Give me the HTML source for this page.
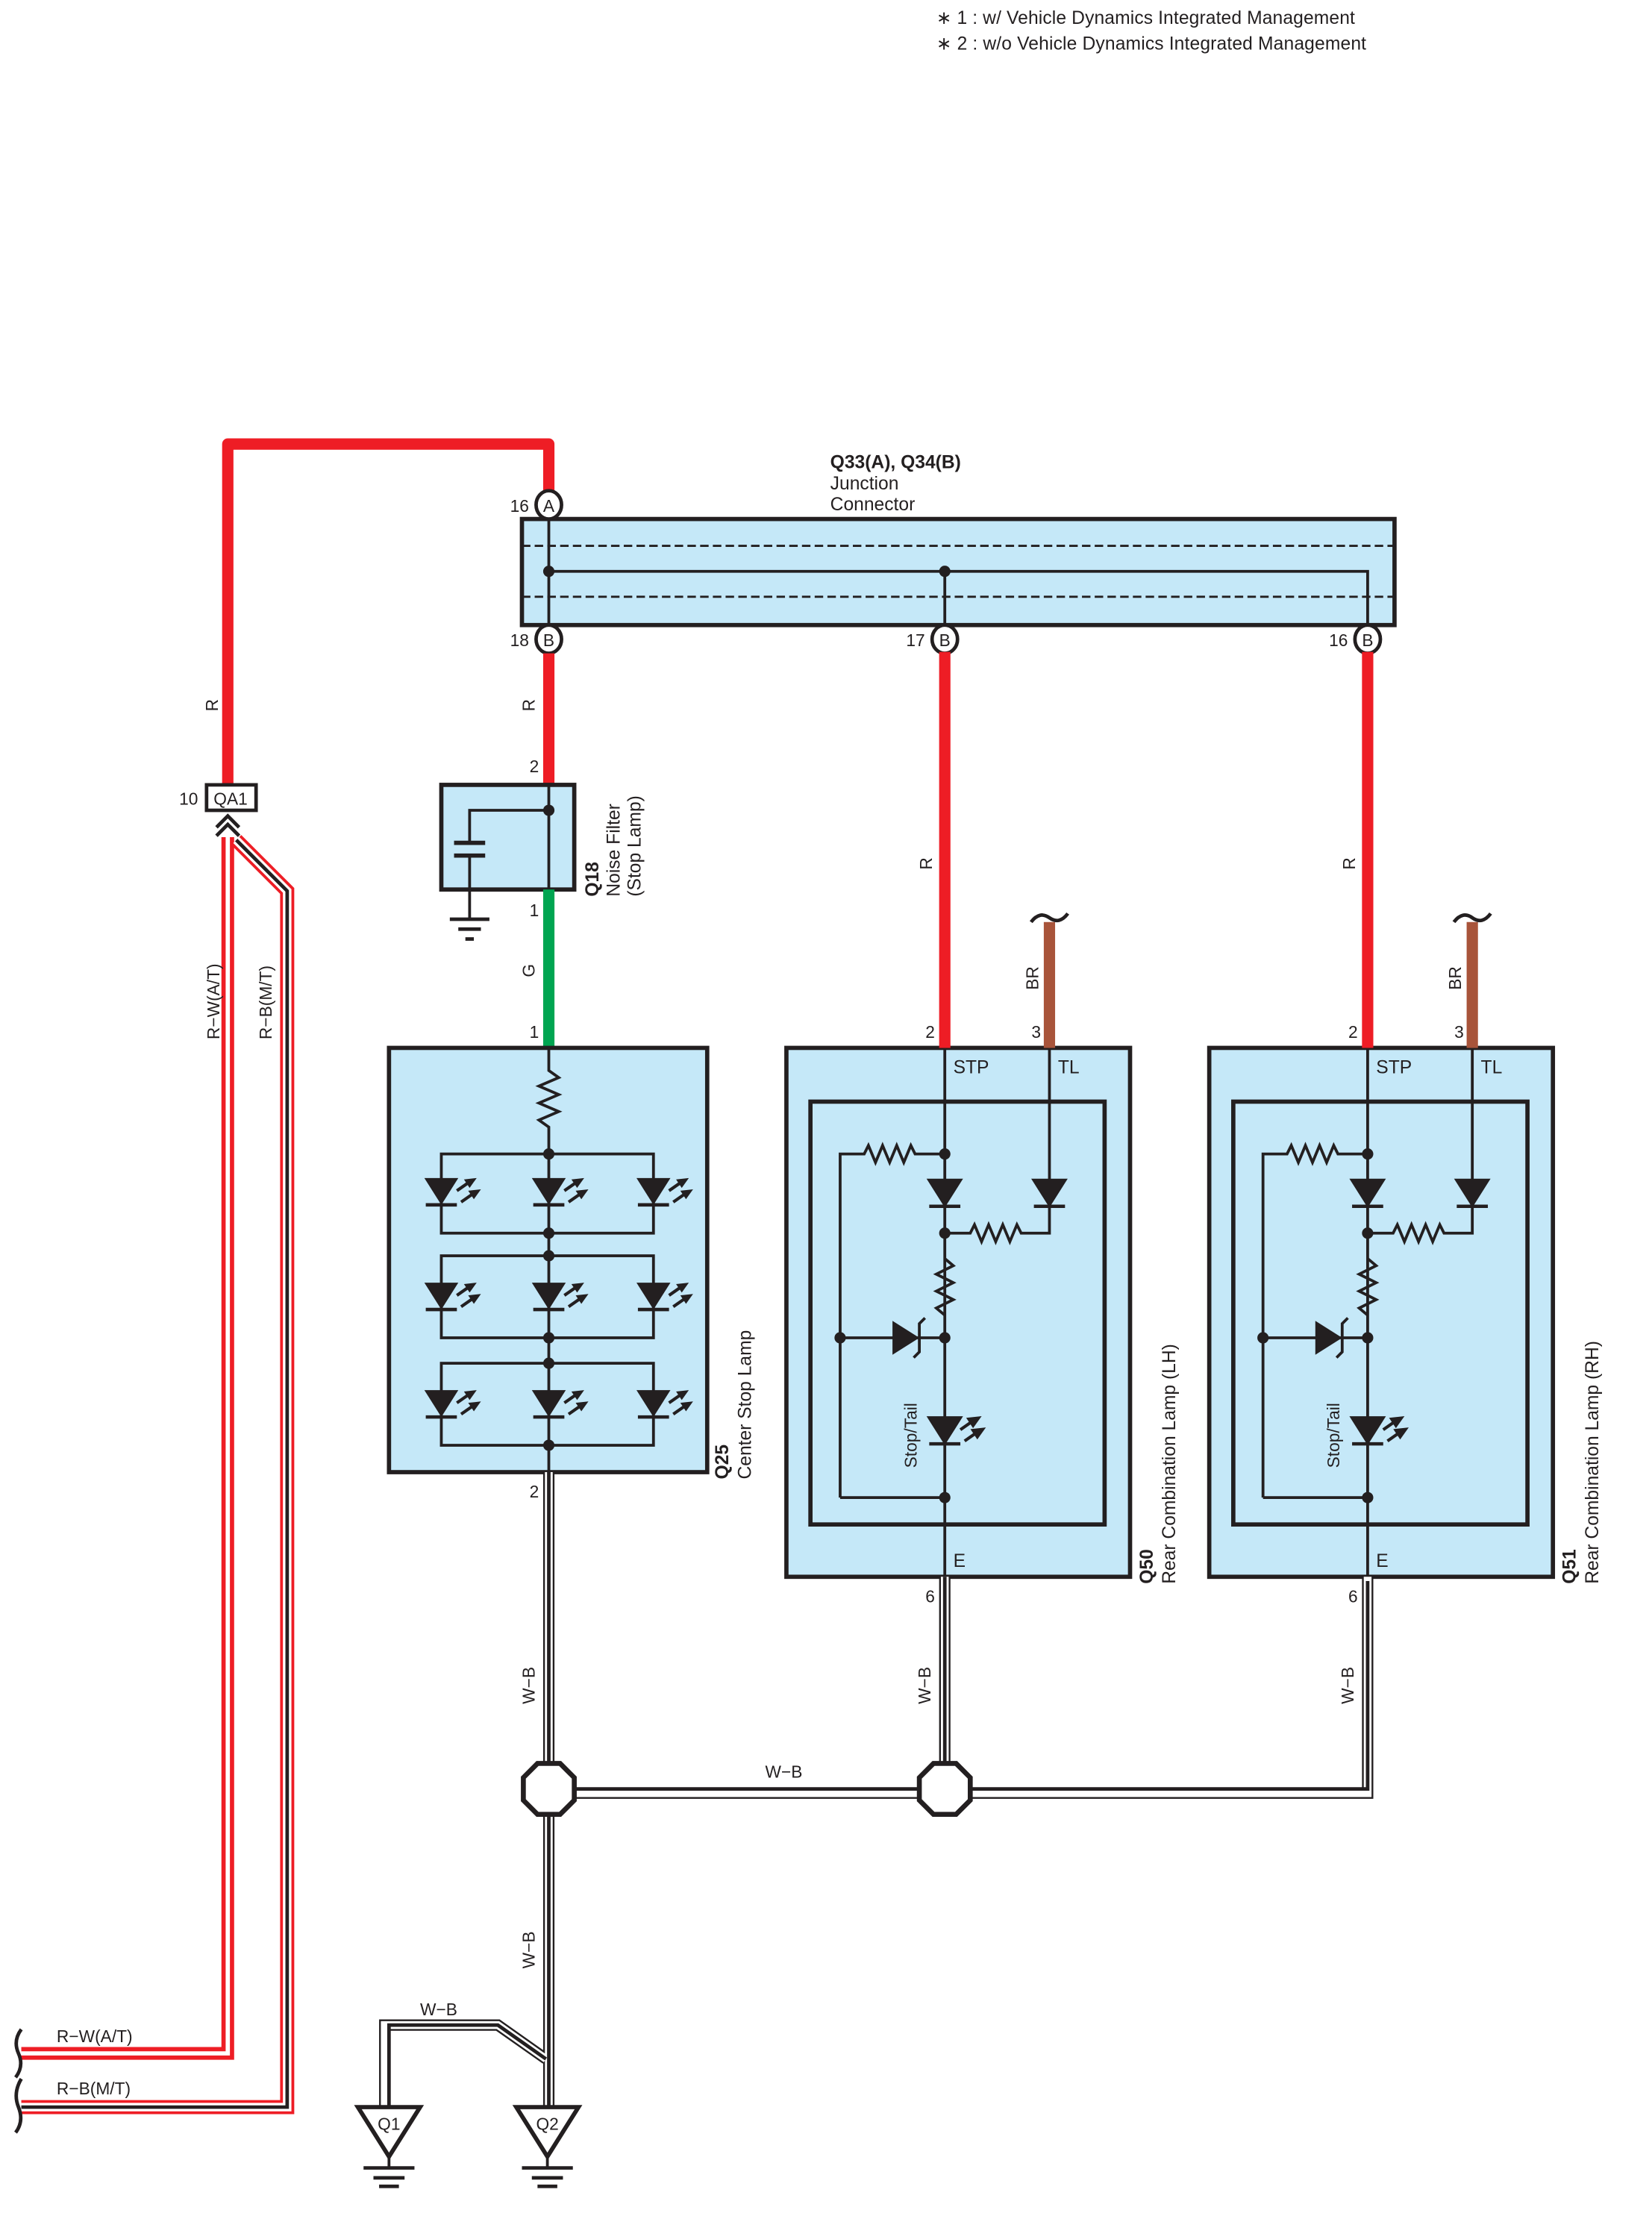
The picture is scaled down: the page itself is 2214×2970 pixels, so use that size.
<!DOCTYPE html>
<html><head><meta charset="utf-8"><style>
html,body{margin:0;padding:0;background:#fff}
svg{display:block}
text{font-family:"Liberation Sans",sans-serif;fill:#231f20}
</style></head><body>
<svg width="2214" height="2970" viewBox="0 0 1168 1567" xmlns="http://www.w3.org/2000/svg">
<defs>
<g id="led">
 <polygon points="-12,-10 12,-10 0,9" fill="#231f20"/>
 <line x1="-11" y1="9" x2="11" y2="9" stroke="#231f20" stroke-width="2.4"/>
 <line x1="11" y1="-1" x2="21" y2="-8" stroke="#231f20" stroke-width="2.2"/>
 <polygon points="25,-10 16,-9 20,-3" fill="#231f20"/>
 <line x1="14" y1="7" x2="24" y2="0" stroke="#231f20" stroke-width="2.2"/>
 <polygon points="28,-2 19,-1 23,5" fill="#231f20"/>
</g>
<g id="dio">
 <polygon points="-12,-10 12,-10 0,9" fill="#231f20"/>
 <line x1="-11" y1="9" x2="11" y2="9" stroke="#231f20" stroke-width="2.4"/>
</g>
<g id="rcl" fill="none" stroke="#231f20">
 <rect x="556" y="741" width="243" height="374" fill="#c5e8f8" stroke-width="3"/>
 <rect x="573" y="779" width="208" height="299" stroke-width="3"/>
 <line x1="668" y1="741" x2="668" y2="1115" stroke-width="2"/>
 <line x1="742" y1="741" x2="742" y2="836" stroke-width="2"/>
 <polyline points="594,1059 594,816 611,816 614,810 619,822 624,810 629,822 634,810 639,822 644,810 647,816 668,816" stroke-width="2"/>
 <polyline points="668,872 686,872 689,866 694,878 699,866 704,878 709,866 714,878 719,866 722,872 742,872 742,853" stroke-width="2"/>
 <polyline points="668,890 674,895 662,901 674,907 662,913 674,919 662,925 668,930" stroke-width="2" fill="none"/>
 <line x1="594" y1="946" x2="668" y2="946" stroke-width="2"/>
 <line x1="594" y1="1059" x2="668" y2="1059" stroke-width="2"/>
 <use href="#dio" x="668" y="844"/>
 <use href="#dio" x="742" y="844"/>
 <use href="#led" x="668" y="1012"/>
 <polygon points="631,934 631,958 650,946" fill="#231f20" stroke="none"/>
 <polyline points="646,960 650,956 650,936 654,932" stroke-width="2"/>
 <g fill="#231f20" stroke="none">
  <circle cx="668" cy="816" r="4"/><circle cx="668" cy="872" r="4"/>
  <circle cx="668" cy="946" r="4"/><circle cx="594" cy="946" r="4"/>
  <circle cx="668" cy="1059" r="4"/>
 </g>
 <text x="674" y="759" font-size="13" stroke="none">STP</text>
 <text x="748" y="759" font-size="13" stroke="none">TL</text>
 <text x="674" y="1108" font-size="13" stroke="none">E</text>
 <text x="648" y="1038" font-size="12" stroke="none" transform="rotate(-90 648 1038)">Stop/Tail</text>
 <text x="661" y="734" font-size="12" stroke="none" text-anchor="end">2</text>
 <text x="736" y="734" font-size="12" stroke="none" text-anchor="end">3</text>
 <text x="661" y="1133" font-size="12" stroke="none" text-anchor="end">6</text>
 <line x1="668" y1="461" x2="668" y2="741" stroke="#ee1d25" stroke-width="8"/>
 <line x1="742" y1="652" x2="742" y2="741" stroke="#a8543a" stroke-width="8"/>
 <path d="M729,652 q6,-8 13,-3 t13,-3" stroke-width="2.5"/>
 <text x="659" y="615" font-size="12" stroke="none" transform="rotate(-90 659 615)">R</text>
 <text x="734" y="700" font-size="12" stroke="none" transform="rotate(-90 734 700)">BR</text>
</g>
</defs>

<text x="662" y="17" font-size="13" textLength="296">∗ 1 : w/ Vehicle Dynamics Integrated Management</text>
<text x="662" y="35" font-size="13" textLength="304">∗ 2 : w/o Vehicle Dynamics Integrated Management</text>

<polyline points="161,555 161,314 388,314 388,348" fill="none" stroke="#ee1d25" stroke-width="8" stroke-linejoin="round"/>
<text x="154" y="503" font-size="12" transform="rotate(-90 154 503)">R</text>

<rect x="369" y="367" width="617" height="75" fill="#c5e8f8" stroke="#231f20" stroke-width="3"/>
<line x1="369" y1="386" x2="986" y2="386" stroke="#231f20" stroke-width="1.5" stroke-dasharray="6,3"/>
<line x1="369" y1="422" x2="986" y2="422" stroke="#231f20" stroke-width="1.5" stroke-dasharray="6,3"/>
<line x1="388" y1="357" x2="388" y2="452" stroke="#231f20" stroke-width="2"/>
<polyline points="388,404 967,404 967,452" fill="none" stroke="#231f20" stroke-width="2"/>
<line x1="668" y1="404" x2="668" y2="452" stroke="#231f20" stroke-width="2"/>
<circle cx="388" cy="404" r="4" fill="#231f20"/><circle cx="668" cy="404" r="4" fill="#231f20"/>
<g fill="#fff" stroke="#231f20" stroke-width="2.5">
<ellipse cx="388" cy="357" rx="9" ry="10"/><ellipse cx="388" cy="452" rx="9" ry="10"/>
<ellipse cx="668" cy="452" rx="9" ry="10"/><ellipse cx="967" cy="452" rx="9" ry="10"/>
</g>
<g font-size="12" text-anchor="middle">
<text x="388" y="362">A</text><text x="388" y="457">B</text><text x="668" y="457">B</text><text x="967" y="457">B</text>
</g>
<g font-size="12" text-anchor="end">
<text x="374" y="362">16</text><text x="374" y="457">18</text><text x="654" y="457">17</text><text x="953" y="457">16</text>
</g>
<text x="587" y="331" font-size="13" font-weight="bold">Q33(A), Q34(B)</text>
<text x="587" y="346" font-size="13">Junction</text>
<text x="587" y="361" font-size="13">Connector</text>

<line x1="388" y1="462" x2="388" y2="555" stroke="#ee1d25" stroke-width="8"/>
<text x="378" y="503" font-size="12" transform="rotate(-90 378 503)">R</text>
<text x="381" y="546" font-size="12" text-anchor="end">2</text>
<rect x="312" y="555" width="94" height="74" fill="#c5e8f8" stroke="#231f20" stroke-width="3"/>
<line x1="388" y1="555" x2="388" y2="629" stroke="#231f20" stroke-width="2"/>
<polyline points="388,573 332,573 332,596" fill="none" stroke="#231f20" stroke-width="2"/>
<line x1="321" y1="596" x2="343" y2="596" stroke="#231f20" stroke-width="3"/>
<line x1="321" y1="605" x2="343" y2="605" stroke="#231f20" stroke-width="3"/>
<line x1="332" y1="605" x2="332" y2="650" stroke="#231f20" stroke-width="2"/>
<line x1="318" y1="650" x2="346" y2="650" stroke="#231f20" stroke-width="2.5"/>
<line x1="324" y1="657" x2="340" y2="657" stroke="#231f20" stroke-width="2.5"/>
<line x1="329" y1="664" x2="335" y2="664" stroke="#231f20" stroke-width="2.5"/>
<circle cx="388" cy="573" r="4" fill="#231f20"/>
<text x="423" y="634" font-size="13" font-weight="bold" transform="rotate(-90 423 634)">Q18</text>
<text x="438" y="634" font-size="13" transform="rotate(-90 438 634)">Noise Filter</text>
<text x="453" y="634" font-size="13" transform="rotate(-90 453 634)">(Stop Lamp)</text>
<line x1="388" y1="629" x2="388" y2="741" stroke="#00a551" stroke-width="8"/>
<text x="381" y="648" font-size="12" text-anchor="end">1</text>
<text x="381" y="734" font-size="12" text-anchor="end">1</text>
<text x="378" y="691" font-size="12" transform="rotate(-90 378 691)">G</text>

<rect x="275" y="741" width="225" height="300" fill="#c5e8f8" stroke="#231f20" stroke-width="3"/>
<g fill="none" stroke="#231f20" stroke-width="2">
<polyline points="388,741 388,757 395,762 381,768 395,774 381,780 395,786 381,792 388,797 388,1041"/>
<rect x="312" y="816" width="150" height="56"/>
<rect x="312" y="888" width="150" height="58"/>
<rect x="312" y="964" width="150" height="58"/>
</g>
<g>
<use href="#led" x="312" y="843"/><use href="#led" x="388" y="843"/><use href="#led" x="462" y="843"/>
<use href="#led" x="312" y="917"/><use href="#led" x="388" y="917"/><use href="#led" x="462" y="917"/>
<use href="#led" x="312" y="993"/><use href="#led" x="388" y="993"/><use href="#led" x="462" y="993"/>
</g>
<g fill="#231f20">
<circle cx="388" cy="816" r="4"/><circle cx="388" cy="872" r="4"/><circle cx="388" cy="888" r="4"/>
<circle cx="388" cy="946" r="4"/><circle cx="388" cy="964" r="4"/><circle cx="388" cy="1022" r="4"/>
</g>
<text x="515" y="1046" font-size="13" font-weight="bold" transform="rotate(-90 515 1046)">Q25</text>
<text x="531" y="1046" font-size="13" transform="rotate(-90 531 1046)">Center Stop Lamp</text>
<text x="381" y="1059" font-size="12" text-anchor="end">2</text>

<use href="#rcl"/>
<use href="#rcl" x="299"/>
<text x="815" y="1120" font-size="13" font-weight="bold" transform="rotate(-90 815 1120)">Q50</text>
<text x="831" y="1120" font-size="13" transform="rotate(-90 831 1120)">Rear Combination Lamp (LH)</text>
<text x="1114" y="1120" font-size="13" font-weight="bold" transform="rotate(-90 1114 1120)">Q51</text>
<text x="1130" y="1120" font-size="13" transform="rotate(-90 1130 1120)">Rear Combination Lamp (RH)</text>

<g fill="none" stroke-linejoin="miter">
<g stroke="#231f20" stroke-width="8">
 <path d="M388,1041 V1500 M668,1115 V1265 M967,1115 V1268 H388 M386,1456 L352,1432 H272 V1490"/>
</g>
<g stroke="#fff" stroke-width="5.5">
 <path d="M388,1041 V1500 M668,1115 V1265 M967,1115 V1268 H388 M386,1456 L352,1432 H272 V1490"/>
</g>
<g stroke="#231f20" stroke-width="2.5">
 <path d="M388,1041 V1500 M668,1115 V1265 M967,1118 V1265 H388 M386,1456 L352,1432 H275 V1490"/>
</g>
</g>
<g fill="#fff" stroke="#231f20" stroke-width="3.5">
<polygon points="380,1247 396,1247 406,1257 406,1273 396,1283 380,1283 370,1273 370,1257"/>
<polygon points="660,1247 676,1247 686,1257 686,1273 676,1283 660,1283 650,1273 650,1257"/>
</g>
<text x="378" y="1205" font-size="12" transform="rotate(-90 378 1205)">W−B</text>
<text x="658" y="1205" font-size="12" transform="rotate(-90 658 1205)">W−B</text>
<text x="957" y="1205" font-size="12" transform="rotate(-90 957 1205)">W−B</text>
<text x="541" y="1257" font-size="12">W−B</text>
<text x="378" y="1392" font-size="12" transform="rotate(-90 378 1392)">W−B</text>
<text x="297" y="1425" font-size="12">W−B</text>

<g stroke="#231f20" fill="#fff">
<polygon points="253,1490 297,1490 275,1525" stroke-width="3"/>
<polygon points="365,1490 409,1490 387,1525" stroke-width="3"/>
<line x1="275" y1="1525" x2="275" y2="1533" stroke-width="2"/>
<line x1="387" y1="1525" x2="387" y2="1533" stroke-width="2"/>
<line x1="257" y1="1533" x2="293" y2="1533" stroke-width="2.5"/>
<line x1="264" y1="1540" x2="286" y2="1540" stroke-width="2.5"/>
<line x1="268" y1="1546" x2="282" y2="1546" stroke-width="2.5"/>
<line x1="369" y1="1533" x2="405" y2="1533" stroke-width="2.5"/>
<line x1="376" y1="1540" x2="398" y2="1540" stroke-width="2.5"/>
<line x1="380" y1="1546" x2="394" y2="1546" stroke-width="2.5"/>
</g>
<text x="275" y="1506" font-size="12" text-anchor="middle">Q1</text>
<text x="387" y="1506" font-size="12" text-anchor="middle">Q2</text>

<g fill="none" stroke-linejoin="miter">
<path d="M161,592 V1452 H15" stroke="#ee1d25" stroke-width="9"/>
<path d="M161,592 V1452 H15" stroke="#fff" stroke-width="3"/>
<path d="M167,594 L203,630 V1490 H15" stroke="#ee1d25" stroke-width="10"/>
<path d="M167,594 L203,630 V1490 H15" stroke="#fff" stroke-width="6"/>
<path d="M167,594 L203,630 V1490 H15" stroke="#231f20" stroke-width="2.5"/>
</g>
<rect x="146" y="555" width="35" height="18" fill="#fff" stroke="#231f20" stroke-width="2.5"/>
<text x="163" y="569" font-size="12" text-anchor="middle">QA1</text>
<text x="140" y="569" font-size="12" text-anchor="end">10</text>
<polyline points="153,585 161,577 169,585" fill="none" stroke="#231f20" stroke-width="2.5"/>
<polyline points="153,591 161,583 169,591" fill="none" stroke="#231f20" stroke-width="2.5"/>
<text x="155" y="735" font-size="12" transform="rotate(-90 155 735)">R−W(A/T)</text>
<text x="192" y="735" font-size="12" transform="rotate(-90 192 735)">R−B(M/T)</text>
<text x="40" y="1444" font-size="12">R−W(A/T)</text>
<text x="40" y="1481" font-size="12">R−B(M/T)</text>
<path d="M15,1435 q-6,8 -2,17 t-2,17 M15,1470 q-6,10 -2,20 t-2,18" fill="none" stroke="#231f20" stroke-width="2.5"/>
</svg>
</body></html>
